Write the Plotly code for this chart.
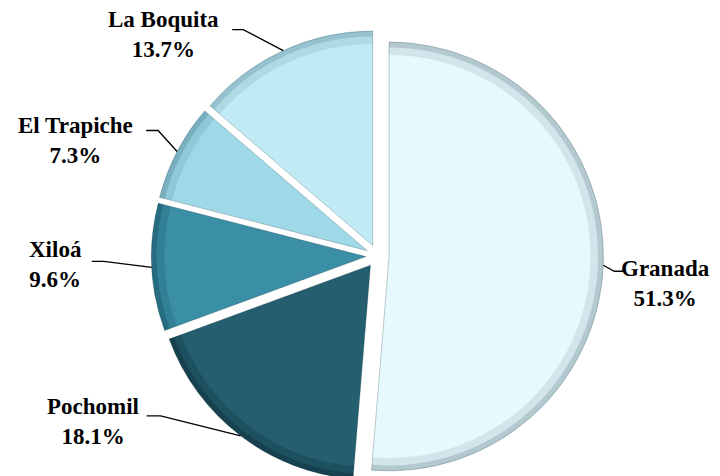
import math
import plotly.graph_objects as go

# ---- data ----
labels = ["Granada", "Pochomil", "Xiloá", "El Trapiche", "La Boquita"]
values = [51.3, 18.1, 9.6, 7.3, 13.7]

# ---- style ----
colors = ["#e6f9fd", "#255e6e", "#3a8ea6", "#9fd9e8", "#c0eaf4"]
rim1 = ["rgba(60,90,100,0.12)", "rgba(0,20,30,0.18)", "rgba(0,40,55,0.14)",
        "rgba(30,80,100,0.12)", "rgba(40,90,110,0.11)"]
rim2 = ["rgba(60,90,100,0.20)", "rgba(0,20,30,0.25)", "rgba(0,40,55,0.22)",
        "rgba(30,80,100,0.20)", "rgba(40,90,110,0.18)"]
W, H = 720, 476
CX, CY, HALF = 369.5, 248.0, 226.0          # pie domain centre / half-size in px
dom_x = [(CX - HALF) / W, (CX + HALF) / W]
dom_y = [1 - (CY + HALF) / H, 1 - (CY - HALF) / H]
pull = 0.054
FONT = "'Liberation Serif', 'DejaVu Serif', serif"

# label block centre offsets from the slice-edge anchor (px)
lab_dx = [62, -148, -96, -102, -120]
lab_dy = [18, -14, -3, -11, -16]
# leader elbow and end offsets from anchor (px)
elb = [(11, 6), (-80, -20), (-48, -6), (-19, -21), (-40, -21)]
end = [(22, 6), (-94, -20), (-60, -6), (-31, -21), (-51, -21)]

cx, cy = CX, CY
r = HALF / (1 + pull)

def px2paper(x, y):
    return x / W, 1 - y / H

def pie(col, hole, line):
    return go.Pie(
        labels=labels, values=values, sort=False, direction="clockwise", rotation=0,
        pull=[pull] * len(values), domain=dict(x=dom_x, y=dom_y), hole=hole,
        marker=dict(colors=col, line=line),
        textinfo="none", hoverinfo="label+percent" if hole == 0 else "skip",
        showlegend=False,
    )

fig = go.Figure()
fig.add_trace(pie(colors, 0, dict(color="rgba(20,50,60,0.25)", width=1)))
fig.add_trace(pie(rim1, 0.94, dict(width=0)))
fig.add_trace(pie(rim2, 0.975, dict(width=0)))

total = sum(values)
cum = 0.0
shapes, annots = [], []
for i, (lab, v) in enumerate(zip(labels, values)):
    mid = (cum + v / 2) / total * 2 * math.pi
    cum += v
    sx, sy = math.sin(mid), -math.cos(mid)
    ax_ = cx + pull * r * sx + r * sx
    ay_ = cy + pull * r * sy + r * sy
    tx, ty = ax_ + lab_dx[i], ay_ + lab_dy[i]
    p0 = px2paper(ax_, ay_)
    p1 = px2paper(ax_ + elb[i][0], ay_ + elb[i][1])
    p2 = px2paper(ax_ + end[i][0], ay_ + end[i][1])
    shapes.append(dict(type="path", xref="paper", yref="paper",
                       path=f"M {p0[0]} {p0[1]} L {p1[0]} {p1[1]} L {p2[0]} {p2[1]}",
                       line=dict(color="black", width=1.3)))
    px_, py_ = px2paper(tx, ty)
    annots.append(dict(x=px_, y=py_, xref="paper", yref="paper",
                       text=f"<b>{lab}</b><br><b>{v:.1f}%</b>", showarrow=False,
                       xanchor="center", yanchor="middle", align="center",
                       font=dict(family=FONT, size=23, color="black")))

fig.update_layout(
    width=W, height=H, margin=dict(l=0, r=0, t=0, b=0),
    paper_bgcolor="white", plot_bgcolor="white",
    font=dict(family=FONT),
    shapes=shapes, annotations=annots,
)
fig.write_html("out.html")
